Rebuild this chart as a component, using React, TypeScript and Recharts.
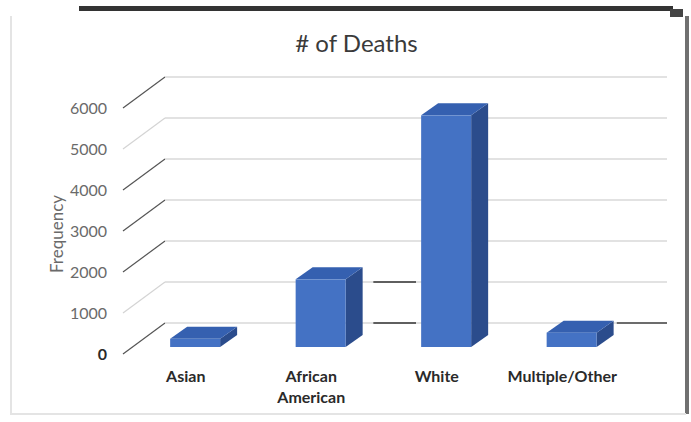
import React from "react";
import { BarChart, Bar, XAxis, YAxis, CartesianGrid } from "recharts";

// ================= Data =================
const categories = ["Asian", "African American", "White", "Multiple/Other"];
const deaths = [200, 1650, 5650, 350];
const yTicks = [0, 1000, 2000, 3000, 4000, 5000, 6000];

const data = categories.map((name, i) => ({ name, deaths: deaths[i] }));

// 3D look: offset of the back wall and bar depth
const WALL_DX = 42;
const WALL_DY = -31;
const BAR_DX = 9.5;
const BAR_DY = -7;
const DEPTH_DX = 17;
const DEPTH_DY = -12;

const FONT = "Lato, 'Open Sans', sans-serif";

const Box3D = (props: any) => {
  const { x, y, width, height } = props;
  if (width == null || height == null) return null;
  const fx = x + BAR_DX;
  const fy = y + BAR_DY;
  const top = `${fx},${fy} ${fx + width},${fy} ${fx + width + DEPTH_DX},${fy + DEPTH_DY} ${fx + DEPTH_DX},${fy + DEPTH_DY}`;
  const side = `${fx + width},${fy} ${fx + width + DEPTH_DX},${fy + DEPTH_DY} ${fx + width + DEPTH_DX},${fy + height + DEPTH_DY} ${fx + width},${fy + height}`;
  return (
    <g>
      <polygon points={side} fill="#2b4c8c" />
      <polygon points={top} fill="#3560b0" />
      <rect x={fx} y={fy} width={width} height={height} fill="#4472c4" />
    </g>
  );
};

// the scanned original has some of the wall edges darkened
const gridLine = (props: any) => {
  const { x1, y1, x2, y2, index } = props;
  const light = index === 1 || index === 5;
  const bx1 = x1 + WALL_DX;
  const by = y1 + WALL_DY;
  const bx2 = x2 + WALL_DX;
  const w = bx2 - bx1;
  return (
    <g key={`grid-${index}-${y1}`}>
      <line
        x1={x1}
        y1={y1}
        x2={bx1}
        y2={by}
        stroke={light ? "#d4d4d4" : "#555555"}
        strokeWidth={1.2}
      />
      <line x1={bx1} y1={by} x2={bx2} y2={y2 + WALL_DY} stroke="#d9d9d9" strokeWidth={1.3} />
      {(index === 0 || index === 1) && (
        <line x1={bx1 + w * 0.415} y1={by} x2={bx1 + w * 0.5} y2={by} stroke="#333" strokeWidth={1.3} />
      )}
      {index === 0 && (
        <line x1={bx1 + w * 0.9} y1={by} x2={bx2} y2={by} stroke="#444" strokeWidth={1.3} />
      )}
    </g>
  );
};

const YTick = (props: any) => {
  const { x, y, payload } = props;
  const zero = payload.value === 0;
  return (
    <text
      x={x}
      y={y + 6}
      textAnchor="end"
      fill={zero ? "#2a2a2a" : "#6a6a6a"}
      fontWeight={zero ? 700 : 400}
      fontSize={16}
      fontFamily={FONT}
    >
      {payload.value}
    </text>
  );
};

const XTick = (props: any) => {
  const { x, y, payload } = props;
  const lines = String(payload.value).split(" ");
  return (
    <text
      x={x}
      y={y + 8}
      textAnchor="middle"
      fill="#2a2a2a"
      fontWeight={700}
      fontSize={16}
      fontFamily={FONT}
    >
      {lines.map((l, i) => (
        <tspan key={i} x={x} dy={i === 0 ? 0 : 21}>
          {l}
        </tspan>
      ))}
    </text>
  );
};

const App = () => {
  return (
    <div
      style={{
        position: "absolute",
        left: 0,
        top: 0,
        width: 691,
        height: 422,
        background: "#ffffff",
        overflow: "hidden",
      }}
    >
      {/* scan edges */}
      <div style={{ position: "absolute", left: 79, top: 6, width: 594, height: 5, background: "#333" }} />
      <div style={{ position: "absolute", left: 670, top: 9, width: 13, height: 8, background: "#444" }} />
      <div style={{ position: "absolute", left: 685, top: 16, width: 4, height: 398, background: "#707070" }} />
      <div style={{ position: "absolute", left: 10, top: 16, width: 2, height: 398, background: "#e4e4e4" }} />
      <div style={{ position: "absolute", left: 10, top: 413, width: 676, height: 2, background: "#e4e4e4" }} />

      {/* Title */}
      <div
        style={{
          position: "absolute",
          left: 0,
          width: 713,
          top: 28,
          textAlign: "center",
          fontFamily: FONT,
          fontSize: 24,
          color: "#3a3a3a",
        }}
      >
        # of Deaths
      </div>

      {/* Y axis title */}
      <div
        style={{
          position: "absolute",
          left: 56,
          top: 234,
          transform: "translate(-50%, -50%) rotate(-90deg)",
          fontFamily: FONT,
          fontSize: 17,
          color: "#6a6a6a",
          whiteSpace: "nowrap",
        }}
      >
        Frequency
      </div>

      <div style={{ position: "absolute", left: 0, top: 0 }}>
        <BarChart
          width={691}
          height={422}
          data={data}
          margin={{ top: 108, right: 66, left: 63, bottom: 18 }}
          barCategoryGap="30%"
        >
          <CartesianGrid horizontal={gridLine} vertical={false} />
          <XAxis
            dataKey="name"
            axisLine={false}
            tickLine={false}
            tickSize={0}
            tickMargin={20}
            height={50}
            interval={0}
            tick={<XTick />}
          />
          <YAxis
            domain={[0, 6000]}
            ticks={yTicks}
            axisLine={false}
            tickLine={false}
            tickSize={0}
            tickMargin={16}
            width={60}
            tick={<YTick />}
          />
          <Bar dataKey="deaths" shape={<Box3D />} isAnimationActive={false} />
        </BarChart>
      </div>
    </div>
  );
};

export default App;
